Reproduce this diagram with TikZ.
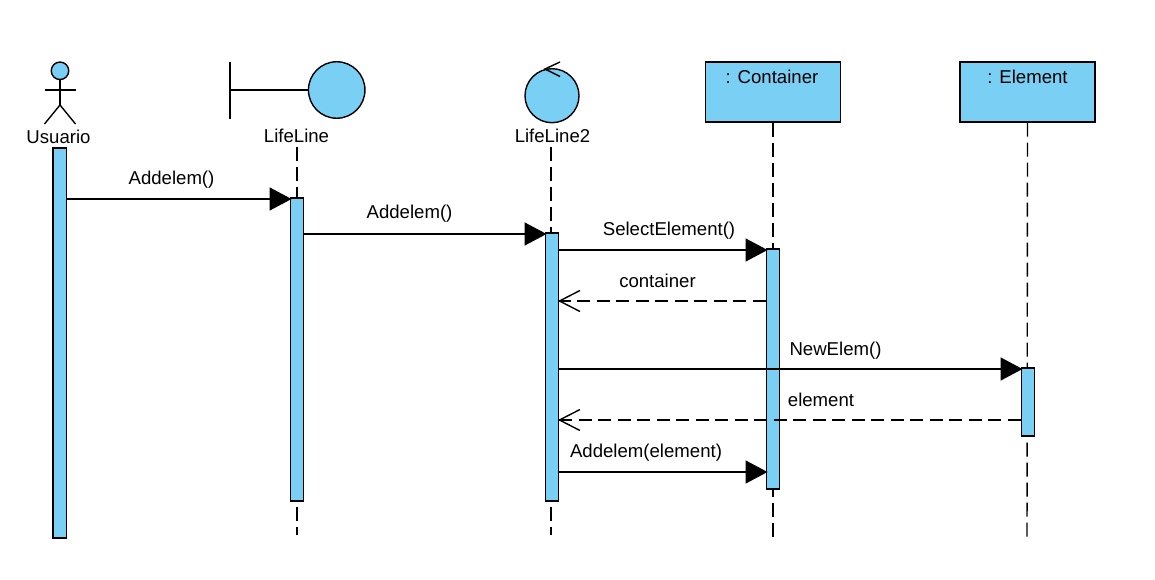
\documentclass[tikz,border=0pt]{standalone}
\usepackage{fontspec}
\setmainfont{Liberation Sans}
\usetikzlibrary{arrows.meta}
\definecolor{lifeblue}{HTML}{7ACFF5}
\tikzset{
  ln/.style={draw=black,line width=1.4pt},
  bar/.style={ln,fill=lifeblue,rectangle,inner sep=0pt,minimum width=13.5pt},
  headbox/.style={ln,fill=lifeblue,rectangle,inner sep=0pt,minimum width=135pt,minimum height=60pt},
  ball/.style={ln,fill=lifeblue,circle,inner sep=0pt},
  txt/.style={inner sep=0pt,font=\fontsize{18.6}{20}\selectfont},
  lifedash/.style={ln,dash pattern=on 14pt off 6pt},
  msg/.style={ln,shorten >=-2pt,-{Triangle[length=22pt,width=23pt]}},
  reply/.style={ln,dash pattern=on 13pt off 6.5pt},
  barb/.style={ln,line join=miter}
}
\newcommand{\openhead}[1]{\draw[barb] ([shift={(20.5,-10.5)}]#1) -- (#1) -- ([shift={(20.5,10.5)}]#1);}
\begin{document}
\begin{tikzpicture}[x=1pt,y=-1pt]
\useasboundingbox (0,0) rectangle (1155,580);
% lifeline ends
\coordinate (e1) at (297,535);
\coordinate (e2) at (551,535);
\coordinate (e3) at (773,538);
\coordinate (e4) at (1027,538);
% labels of the heads
\node[txt] (lu) at (58.5,136.5) {Usuario};
\node[txt] (l1) at (296.5,135.5) {LifeLine};
\node[txt] (l2) at (552.5,135.5) {LifeLine2};
% head boxes
\node[headbox] (cb) at (773,92) {};
\node[headbox] (eb) at (1027.5,92) {};
\node[txt] at (772,77) {: Container};
\node[txt] at (1027.5,77) {: Element};
% dashed lifelines
\draw[lifedash] (297,147) -- (e1);
\draw[lifedash] (551,147) -- (e2);
\draw[lifedash] (cb.south) -- (e3);
\draw[lifedash] (eb.south) -- (e4);
% actor
\node[ball,minimum size=17.5pt] (head) at (60,70.8) {};
\coordinate (hip) at (60,105);
\draw[ln] (head.south) -- (hip);
\draw[ln] (44.5,90) -- (75.5,90);
\draw[ln] (44.5,124) -- (hip) -- (75.5,124);
% boundary
\node[ball,minimum size=56.5pt] (bd) at (336.7,90) {};
\coordinate (bt) at (230,62);
\coordinate (bb) at (230,119.5);
\draw[ln] (bt) -- (bb);
\draw[ln] (bt |- bd) -- (bd.west);
% control
\node[ball,minimum size=54pt] (ct) at (552,95.7) {};
\coordinate (cta) at (545,69);
\draw[ln] (560,62) -- (cta) -- (560,76.5);
% activation bars
\node[bar,minimum height=390pt] (b0) at (59.7,343) {};
\node[bar,minimum height=303pt] (b1) at (297,349.5) {};
\node[bar,minimum height=268pt] (b2) at (552,367) {};
\node[bar,minimum height=240pt] (b3) at (773,369) {};
\node[bar,minimum height=68pt] (b4) at (1028,402) {};
% messages
\draw[msg] (b0.east |- 0,199) -- (b1.west |- 0,199);
\draw[msg] (b1.east |- 0,234) -- (b2.west |- 0,234);
\draw[msg] (b2.east |- 0,250) -- (b3.west |- 0,250);
\coordinate (r1) at (b2.east |- 0,301);
\draw[reply] (b3.west |- 0,301) -- (r1);
\openhead{r1}
\draw[msg] (b2.east |- 0,369) -- (b4.west |- 0,369);
\coordinate (r2) at (b2.east |- 0,420);
\draw[reply] (b4.west |- 0,420) -- (r2);
\openhead{r2}
\draw[msg] (b2.east |- 0,472) -- (b3.west |- 0,472);
% message labels
\node[txt] at (171.5,180) {Addelem()};
\node[txt] at (409.5,214) {Addelem()};
\node[txt] at (669,231) {SelectElement()};
\node[txt] at (657.5,281) {container};
\node[txt] at (835.5,350.5) {NewElem()};
\node[txt] at (821,399.5) {element};
\node[txt] at (646,453) {Addelem(element)};
\end{tikzpicture}
\end{document}
